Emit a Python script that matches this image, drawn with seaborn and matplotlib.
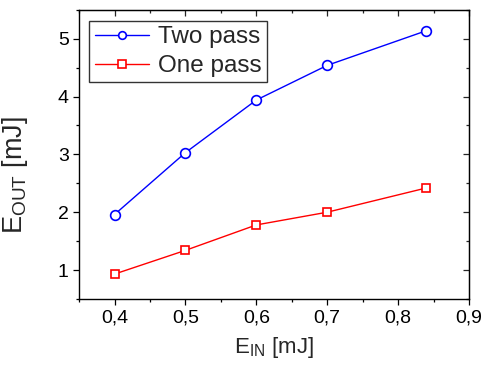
import matplotlib
matplotlib.use("Agg")
import matplotlib.pyplot as plt
import seaborn as sns
import pandas as pd
from matplotlib.ticker import MultipleLocator, FuncFormatter
from matplotlib.lines import Line2D

e_in = [0.4, 0.5, 0.6, 0.7, 0.84]
two_pass = [1.96, 3.03, 3.94, 4.54, 5.14]
one_pass = [0.93, 1.34, 1.78, 2.00, 2.42]
series_names = ["Two pass", "One pass"]
colors = ["#0000ff", "#ff0000"]
markers = ["o", "s"]

sns.set_style("ticks")
plt.rcParams["font.family"] = ["Liberation Sans", "DejaVu Sans"]
plt.rcParams["mathtext.fontset"] = "custom"
plt.rcParams["mathtext.rm"] = "Liberation Sans"
plt.rcParams["mathtext.it"] = "Liberation Sans:italic"

df = pd.DataFrame({
    "E_in": e_in * 2,
    "E_out": two_pass + one_pass,
    "series": [series_names[0]] * len(e_in) + [series_names[1]] * len(e_in),
})

fig = plt.figure(figsize=(4.85, 3.65), dpi=100)
ax = fig.add_axes([0.163, 0.181, 0.804, 0.792])

sns.lineplot(data=df, x="E_in", y="E_out", hue="series", style="series",
             palette=dict(zip(series_names, colors)),
             markers=dict(zip(series_names, markers)),
             dashes=False, ax=ax, linewidth=1.0, markersize=7,
             markerfacecolor="white", markeredgewidth=1.2, legend=False)
for line, c in zip(ax.get_lines(), colors):
    line.set_markeredgecolor(c)
    line.set_markerfacecolor("white")
ax.get_lines()[1].set_markersize(6.2)

ax.set_xlim(0.35, 0.9)
ax.set_ylim(0.5, 5.5)
ax.xaxis.set_major_locator(MultipleLocator(0.1))
ax.xaxis.set_minor_locator(MultipleLocator(0.05))
ax.yaxis.set_major_locator(MultipleLocator(1))
ax.yaxis.set_minor_locator(MultipleLocator(0.5))
ax.xaxis.set_major_formatter(FuncFormatter(lambda v, p: f"{v:.1f}".replace(".", ",")))
ax.yaxis.set_major_formatter(FuncFormatter(lambda v, p: f"{v:.0f}"))

for s in ax.spines.values():
    s.set_visible(True)
    s.set_linewidth(1.0)
    s.set_color("black")

ax.tick_params(which="both", direction="out", top=False, right=False, width=0.9, colors="black")
ax.tick_params(which="major", length=4.5, labelsize=14, pad=3)
ax.tick_params(which="minor", length=2.5)
ax2 = ax.secondary_xaxis("top")
ax2.xaxis.set_major_locator(MultipleLocator(0.1))
ax2.xaxis.set_minor_locator(MultipleLocator(0.05))
ax2.tick_params(which="both", direction="in", labeltop=False, width=0.9)
ax2.tick_params(which="major", length=4.5)
ax2.tick_params(which="minor", length=2.5)
ax3 = ax.secondary_yaxis("right")
ax3.yaxis.set_major_locator(MultipleLocator(1))
ax3.yaxis.set_minor_locator(MultipleLocator(0.5))
ax3.tick_params(which="both", direction="in", labelright=False, width=0.9)
ax3.tick_params(which="major", length=4.5)
ax3.tick_params(which="minor", length=2.5)

ax.set_xlabel(r"E$_{\mathrm{IN}}$ [mJ]", fontsize=16, labelpad=6)
ax.set_ylabel(r"E$_{\mathrm{OUT}}$ [mJ]", fontsize=19.5)
ax.yaxis.set_label_coords(-0.125, 0.43)

handles = [Line2D([], [], color=c, marker=m, markersize=5.5, markerfacecolor="white",
                  markeredgecolor=c, markeredgewidth=1.2, linewidth=1.0)
           for c, m in zip(colors, markers)]
leg = ax.legend(handles, series_names, loc="upper left",
                bbox_to_anchor=(0.026, 0.962), borderaxespad=0,
                fontsize=17.5, frameon=True, fancybox=False,
                handlelength=2.25, handletextpad=0.35, labelspacing=0.28,
                borderpad=0.22)
leg.get_frame().set_edgecolor("black")
leg.get_frame().set_linewidth(1.0)

fig.savefig("out.png", dpi=100)
